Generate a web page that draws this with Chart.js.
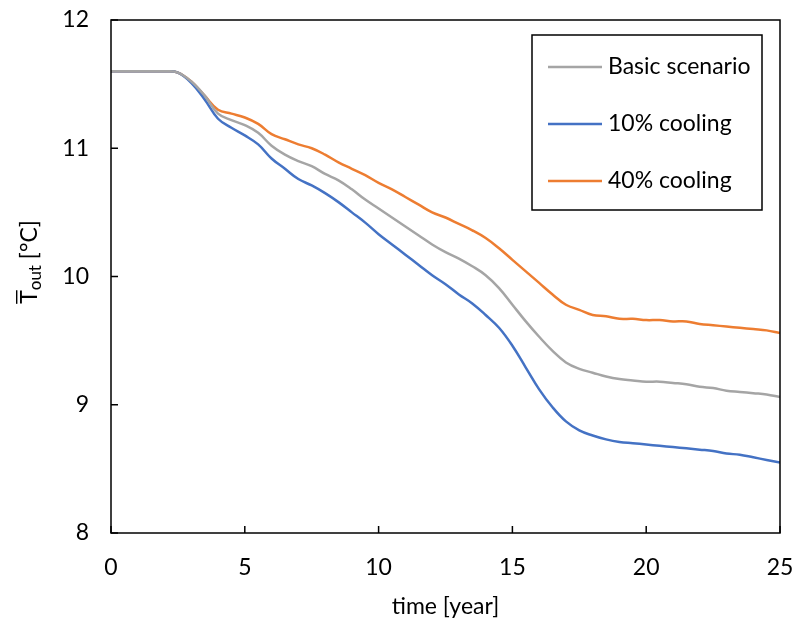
<!DOCTYPE html>
<html><head><meta charset="utf-8">
<script src="https://cdn.jsdelivr.net/npm/chart.js@4/dist/chart.umd.min.js"></script>
<style>html,body{margin:0;padding:0;background:#fff}</style>
</head><body>
<canvas id="c" width="792" height="629"></canvas>
<script>
const years = [0,0.5,1,1.5,2,2.5,3,3.5,4,4.5,5,5.5,6,6.5,7,7.5,8,8.5,9,9.5,10,10.5,11,11.5,12,12.5,13,13.5,14,14.5,15,15.5,16,16.5,17,17.5,18,18.5,19,19.5,20,20.5,21,21.5,22,22.5,23,23.5,24,24.5,25];
const basicScenario = [11.6,11.6,11.6,11.6,11.6,11.59,11.52,11.41,11.27,11.22,11.18,11.12,11.02,10.95,10.90,10.86,10.80,10.75,10.68,10.60,10.53,10.46,10.39,10.32,10.25,10.19,10.14,10.08,10.01,9.91,9.78,9.65,9.53,9.42,9.33,9.28,9.25,9.22,9.20,9.19,9.18,9.18,9.17,9.16,9.14,9.13,9.11,9.10,9.09,9.08,9.06];
const cooling10 = [11.6,11.6,11.6,11.6,11.6,11.59,11.51,11.38,11.23,11.16,11.10,11.03,10.92,10.84,10.76,10.71,10.65,10.58,10.50,10.42,10.33,10.25,10.17,10.09,10.01,9.94,9.86,9.79,9.70,9.60,9.46,9.29,9.12,8.98,8.87,8.80,8.76,8.73,8.71,8.70,8.69,8.68,8.67,8.66,8.65,8.64,8.62,8.61,8.59,8.57,8.55];
const cooling40 = [11.6,11.6,11.6,11.6,11.6,11.59,11.52,11.41,11.30,11.27,11.24,11.19,11.11,11.07,11.03,11.00,10.95,10.89,10.84,10.79,10.73,10.68,10.62,10.56,10.50,10.46,10.41,10.36,10.30,10.22,10.13,10.04,9.95,9.86,9.78,9.74,9.70,9.69,9.67,9.67,9.66,9.66,9.65,9.65,9.63,9.62,9.61,9.60,9.59,9.58,9.56];
const seriesLabels = ['Basic scenario','10% cooling','40% cooling'];
const xTicks = [0,5,10,15,20,25];
const yTicks = [8,9,10,11,12];

const FONT = 'Lato, "Open Sans", sans-serif';
const FS = 23;
const toPts = arr => arr.map((v,i)=>({x:years[i], y:v}));

const framePlugin = {
  id:'frame',
  afterDraw(chart){
    const {ctx, chartArea:a, scales:{x,y}} = chart;
    ctx.save();
    ctx.strokeStyle='#000'; ctx.lineWidth=1.5;
    ctx.strokeRect(a.left, a.top, a.right-a.left, a.bottom-a.top);
    ctx.beginPath();
    xTicks.forEach(v=>{const px=x.getPixelForValue(v); ctx.moveTo(px,a.bottom); ctx.lineTo(px,a.bottom-7);});
    yTicks.forEach(v=>{const py=y.getPixelForValue(v); ctx.moveTo(a.left,py); ctx.lineTo(a.left+7,py);});
    ctx.stroke();
    // axis titles
    ctx.fillStyle='#000';
    ctx.font=FS+'px '+FONT;
    ctx.textAlign='center'; ctx.textBaseline='middle';
    ctx.fillText('time [year]', (a.left+a.right)/2, 607);
    // y title rotated
    ctx.translate(29, 262);
    ctx.rotate(-Math.PI/2);
    ctx.textAlign='left'; ctx.textBaseline='alphabetic';
    const big=FS+'px '+FONT, small='17px '+FONT;
    ctx.font=big; const wT=ctx.measureText('T').width;
    ctx.font=small; const wO=ctx.measureText('out').width;
    ctx.font=big; const wC=ctx.measureText(' [°C]').width;
    let sx=-(wT+wO+wC)/2, base=8;
    ctx.font=big; ctx.fillText('T', sx, base);
    ctx.fillRect(sx, base-21, wT, 1.4);
    ctx.font=small; ctx.fillText('out', sx+wT, base+4);
    ctx.font=big; ctx.fillText(' [°C]', sx+wT+wO, base);
    ctx.restore();
    // legend
    ctx.save();
    ctx.strokeStyle='#000'; ctx.lineWidth=1.5;
    ctx.strokeRect(532, 35, 230, 175);
    ctx.font=FS+'px '+FONT; ctx.textBaseline='middle'; ctx.textAlign='left'; ctx.fillStyle='#000';
    chart.data.datasets.forEach((ds,i)=>{
      const yy = 67 + i*57;
      ctx.strokeStyle=ds.borderColor; ctx.lineWidth=2.5;
      ctx.beginPath(); ctx.moveTo(548,yy); ctx.lineTo(602,yy); ctx.stroke();
      ctx.fillText(ds.label, 608, yy);
    });
    ctx.restore();
  }
};

new Chart(document.getElementById('c'), {
  type:'line',
  data:{datasets:[
    {label:seriesLabels[0], data:toPts(basicScenario), borderColor:'#A5A5A5', borderWidth:2.5, pointRadius:0, tension:0.4, fill:false},
    {label:seriesLabels[1], data:toPts(cooling10), borderColor:'#4472C4', borderWidth:2.5, pointRadius:0, tension:0.4, fill:false},
    {label:seriesLabels[2], data:toPts(cooling40), borderColor:'#ED7D31', borderWidth:2.5, pointRadius:0, tension:0.4, fill:false}
  ]},
  options:{
    responsive:false, animation:false,
    layout:{padding:{top:20,right:12,left:0,bottom:0}},
    plugins:{legend:{display:false}, tooltip:{enabled:false}},
    scales:{
      x:{type:'linear', min:0, max:25,
        afterBuildTicks:s=>{s.ticks=xTicks.map(v=>({value:v}));},
        afterFit:s=>{s.height=96; s.paddingLeft=0; s.paddingRight=0;},
        grid:{display:false, drawTicks:false}, border:{display:false},
        ticks:{padding:21, color:'#000', font:{family:FONT, size:FS}}},
      y:{type:'linear', min:8, max:12,
        afterBuildTicks:s=>{s.ticks=yTicks.map(v=>({value:v}));},
        afterFit:s=>{s.width=111; s.paddingTop=0; s.paddingBottom=0;},
        grid:{display:false, drawTicks:false}, border:{display:false},
        ticks:{padding:22, color:'#000', font:{family:FONT, size:FS}}}
    }
  },
  plugins:[framePlugin]
});
</script>
</body></html>
